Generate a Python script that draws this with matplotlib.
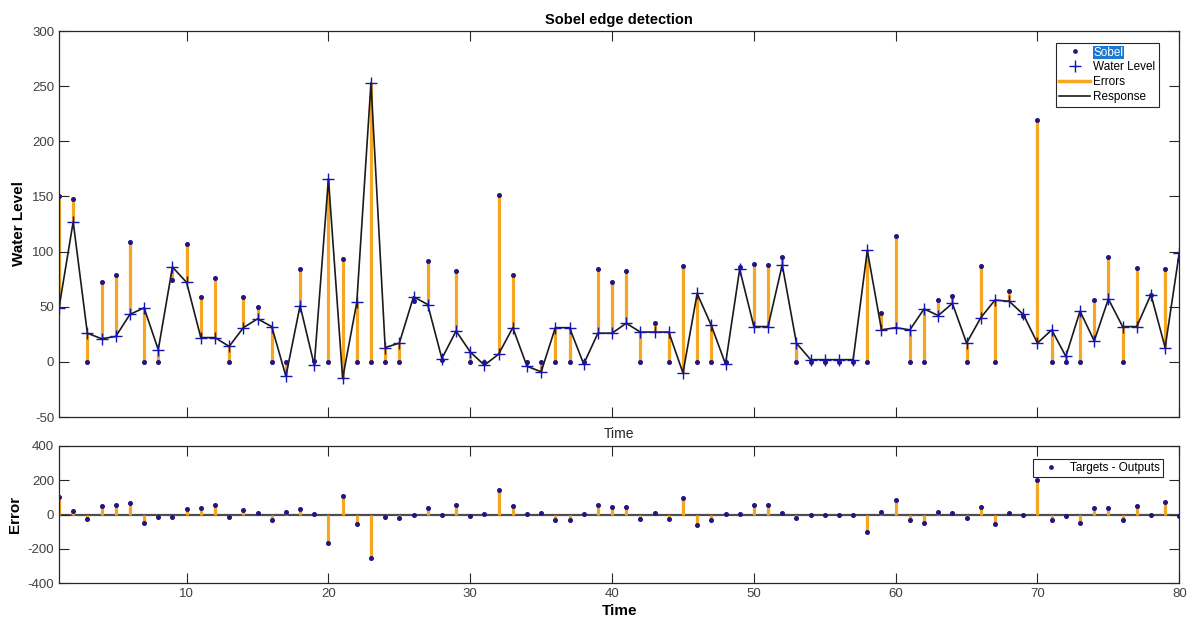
import matplotlib
matplotlib.use("Agg")
import matplotlib.pyplot as plt
from matplotlib.lines import Line2D
import numpy as np

# ── Style ─────────────────────────────────────────────────────────────────────
plt.rcParams.update({
    'font.family':       ['Liberation Sans', 'DejaVu Sans'],
    'axes.unicode_minus': False,
    'axes.edgecolor':    '#262626',
    'axes.linewidth':    0.9,
    'xtick.color':       '#262626',
    'ytick.color':       '#262626',
    'xtick.labelcolor':  '#404040',
    'ytick.labelcolor':  '#404040',
    'xtick.direction':   'in',
    'ytick.direction':   'in',
    'xtick.top':         True,
    'ytick.right':       True,
    'xtick.major.size':  7,
    'ytick.major.size':  7,
    'xtick.labelsize':   9.5,
    'ytick.labelsize':   9.5,
})

ORANGE = '#f5a623'
DOT    = '#24157e'
PLUS   = '#1414b4'
RESP   = '#1a1a1a'

# ── Data ──────────────────────────────────────────────────────────────────────
time = list(range(1, 81))

# Sobel targets
targets = [150, 148, 0, 72, 79, 109, 0, 0, 74, 107,
           59, 76, 0, 59, 50, 0, 0, 84, 1, 0,
           93, 0, 0, 0, 0, 55, 91, 2, 82, 0,
           0, 151, 79, 0, 0, 0, 0, 0, 84, 72,
           82, 0, 35, 0, 87, 0, 0, 0, 86, 89,
           88, 95, 0, 0, 0, 0, 0, 0, 44, 114,
           0, 0, 56, 60, 0, 87, 0, 64, 42, 219,
           0, 0, 0, 56, 95, 0, 85, 61, 84, 92]

# network outputs (water level)
outputs = [49, 127, 26, 21, 23, 43, 49, 11, 86, 72,
           22, 22, 14, 31, 39, 32, -13, 51, -3, 166,
           -15, 54, 253, 13, 17, 59, 52, 3, 28, 9,
           -3, 7, 31, -4, -9, 31, 31, -2, 26, 26,
           35, 27, 27, 27, -10, 62, 33, -2, 84, 32,
           32, 88, 17, 2, 2, 2, 2, 101, 29, 31,
           29, 48, 42, 53, 17, 40, 56, 55, 43, 17,
           29, 5, 46, 19, 57, 32, 32, 61, 13, 99]

errors = [t - o for t, o in zip(targets, outputs)]

x_ticks = [10, 20, 30, 40, 50, 60, 70, 80]
y_ticks_top = [-50, 0, 50, 100, 150, 200, 250, 300]
y_ticks_err = [-400, -200, 0, 200, 400]

# ── Figure ────────────────────────────────────────────────────────────────────
W, H = 1193, 627
fig = plt.figure(figsize=(W / 100, H / 100), dpi=100, facecolor='white')

def frac(x0, y0, x1, y1):
    return [x0 / W, 1 - y1 / H, (x1 - x0) / W, (y1 - y0) / H]

ax = fig.add_axes(frac(59, 31, 1179.3, 417))
ax2 = fig.add_axes(frac(59, 446, 1179.3, 583.3))

# response panel
ax.vlines(time, outputs, targets, color=ORANGE, lw=2.3, zorder=1)
ax.plot(time, outputs, color=RESP, lw=1.2, zorder=2)
ax.plot(time, targets, ls='none', marker='o', ms=2.6, color=DOT, zorder=3)
ax.plot(time, outputs, ls='none', marker='+', ms=9, mew=1.0, color=PLUS, zorder=4)

ax.set_xlim(1, 80)
ax.set_ylim(-50, 300)
ax.set_xticks(x_ticks)
ax.set_xticklabels([])
ax.set_yticks(y_ticks_top)
ax.set_title('Sobel edge detection', fontsize=10.5, fontweight='bold', pad=5)
ax.set_xlabel('Time', fontsize=10, color='#262626', labelpad=4)
ax.set_ylabel('Water Level', fontsize=11, fontweight='bold', labelpad=4)

handles = [
    Line2D([], [], ls='none', marker='o', ms=2.4, color=DOT),
    Line2D([], [], ls='none', marker='+', ms=8, mew=1.0, color=PLUS),
    Line2D([], [], color=ORANGE, lw=2.5),
    Line2D([], [], color=RESP, lw=1.2),
]
leg = ax.legend(handles, ['Sobel', 'Water Level', 'Errors', 'Response'],
                loc='upper right', bbox_to_anchor=(0.982, 0.969), borderaxespad=0,
                fontsize=8.5, frameon=True, fancybox=False, framealpha=1,
                edgecolor='#262626', handlelength=2.6, handletextpad=0.3,
                labelspacing=0.25, borderpad=0.3)
leg.get_frame().set_linewidth(0.8)
sel = leg.get_texts()[0]
sel.set_color('white')
sel.set_bbox(dict(facecolor='#1d7ad2', edgecolor='none', pad=0.6))

# error panel
ax2.axhline(0, color='#4d4d4d', lw=1.6, zorder=1)
ax2.vlines(time, 0, errors, color=ORANGE, lw=2.3, zorder=2)
ax2.plot(time, errors, ls='none', marker='o', ms=2.6, color=DOT, zorder=3)

ax2.set_xlim(1, 80)
ax2.set_ylim(-400, 400)
ax2.set_xticks(x_ticks)
ax2.set_yticks(y_ticks_err)
ax2.set_xlabel('Time', fontsize=11, fontweight='bold', labelpad=3)
ax2.set_ylabel('Error', fontsize=11, fontweight='bold', labelpad=4)

leg2 = ax2.legend([handles[0]], ['Targets - Outputs'],
                  loc='upper right', bbox_to_anchor=(0.9855, 0.905), borderaxespad=0,
                  fontsize=8.5, frameon=True, fancybox=False, framealpha=1,
                  edgecolor='#262626', handlelength=2.6, handletextpad=0.3,
                  borderpad=0.25)
leg2.get_frame().set_linewidth(0.8)

fig.savefig('out.png', dpi=100, facecolor='white')
